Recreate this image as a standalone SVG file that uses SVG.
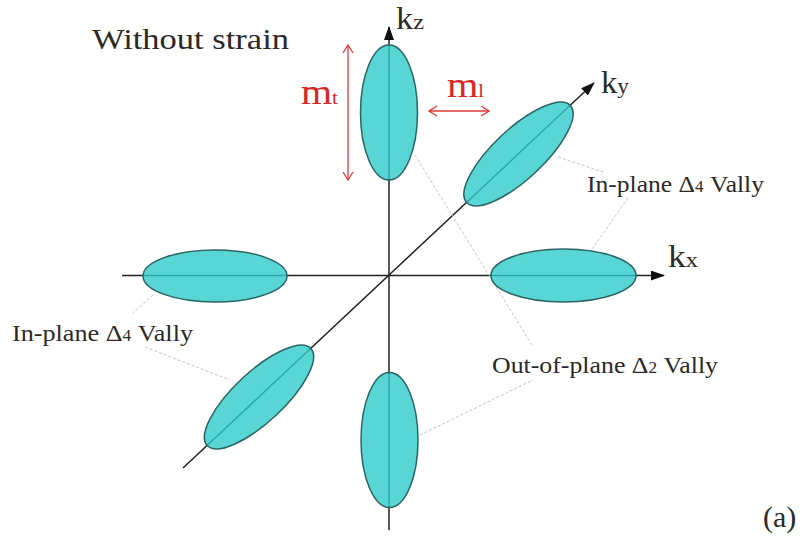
<svg xmlns="http://www.w3.org/2000/svg" width="805" height="538" viewBox="0 0 805 538">
<defs>
<marker id="ah" markerUnits="userSpaceOnUse" markerWidth="14" markerHeight="10" refX="13" refY="5" orient="auto">
<path d="M0,0 L14,5 L0,10 Z" fill="#111"/>
</marker>
<marker id="ra" markerUnits="userSpaceOnUse" markerWidth="10" markerHeight="12" refX="9" refY="6" orient="auto-start-reverse">
<path d="M1,1 L9,6 L1,11" fill="none" stroke="#e03a3a" stroke-width="1.3"/>
</marker>
<style>
.ax{stroke:#222;stroke-width:1.5;fill:none}
.el{fill:#2ecaca;fill-opacity:0.8;stroke:#2b6464;stroke-width:1.5}
.ld{stroke:#c4c4c4;stroke-width:1;stroke-dasharray:3 2;fill:none}
.rd{stroke:#e03a3a;stroke-width:1.3;fill:none}
.t{font-family:"Liberation Serif","Times New Roman",serif;fill:#2a2a2a}
.r{font-family:"Liberation Serif","Times New Roman",serif;fill:#d62828}
</style>
</defs>
<rect width="805" height="538" fill="#fff"/>

<g id="connectors">
<line class="ax" x1="389" y1="530" x2="389" y2="27" marker-end="url(#ah)"/>
<line class="ax" x1="122" y1="275.5" x2="664" y2="275.5" marker-end="url(#ah)"/>
<line class="ax" x1="183" y1="468" x2="594" y2="83" marker-end="url(#ah)"/>
<line class="ld" x1="415" y1="155" x2="532" y2="345"/>
<line class="ld" x1="420" y1="435" x2="533" y2="380"/>
<line class="ld" x1="558" y1="157" x2="603" y2="172"/>
<line class="ld" x1="628" y1="198" x2="592" y2="249"/>
<line class="ld" x1="153" y1="295" x2="133" y2="313"/>
<line class="ld" x1="145" y1="347" x2="230" y2="380"/>
<line class="rd" x1="348" y1="45" x2="348" y2="180" marker-start="url(#ra)" marker-end="url(#ra)"/>
<line class="rd" x1="429" y1="111" x2="489" y2="111" marker-start="url(#ra)" marker-end="url(#ra)"/>
</g>

<g id="valley-kz-top"><ellipse class="el" cx="389" cy="112.5" rx="28.5" ry="67.5"/></g>
<g id="valley-kz-bottom"><ellipse class="el" cx="389.5" cy="440" rx="28.5" ry="67.5"/></g>
<g id="valley-kx-right"><ellipse class="el" cx="563.5" cy="275.5" rx="72.5" ry="26.5"/></g>
<g id="valley-kx-left"><ellipse class="el" cx="215" cy="276" rx="72" ry="26"/></g>
<g id="valley-ky-top"><ellipse class="el" cx="518.5" cy="154" rx="71" ry="25" transform="rotate(-43.1 518.5 154)"/></g>
<g id="valley-ky-bottom"><ellipse class="el" cx="259" cy="397" rx="71" ry="25" transform="rotate(-43.1 259 397)"/></g>

<g id="labels">
<text class="t" x="92" y="49" font-size="30" textLength="197" lengthAdjust="spacingAndGlyphs">Without strain</text>
<text class="t" x="396" y="29" font-size="31" textLength="28" lengthAdjust="spacingAndGlyphs">k<tspan font-size="22">z</tspan></text>
<text class="t" x="601" y="93" font-size="31" textLength="28" lengthAdjust="spacingAndGlyphs">k<tspan font-size="22">y</tspan></text>
<text class="t" x="668" y="267" font-size="32" textLength="30" lengthAdjust="spacingAndGlyphs">k<tspan font-size="22">x</tspan></text>
<text class="r" x="301" y="104" font-size="36" textLength="37" lengthAdjust="spacingAndGlyphs">m<tspan font-size="19">t</tspan></text>
<text class="r" x="447" y="97" font-size="36" textLength="37" lengthAdjust="spacingAndGlyphs">m<tspan font-size="18">l</tspan></text>
<text class="t" x="587" y="192" font-size="24" textLength="177" lengthAdjust="spacingAndGlyphs">In-plane Δ<tspan font-size="16">4</tspan> Vally</text>
<text class="t" x="12" y="341" font-size="24" textLength="181" lengthAdjust="spacingAndGlyphs">In-plane Δ<tspan font-size="16">4</tspan> Vally</text>
<text class="t" x="492" y="373" font-size="24" textLength="226" lengthAdjust="spacingAndGlyphs">Out-of-plane Δ<tspan font-size="16">2</tspan> Vally</text>
<text class="t" x="763" y="527" font-size="30" fill="#111">(a)</text>
</g>
</svg>
